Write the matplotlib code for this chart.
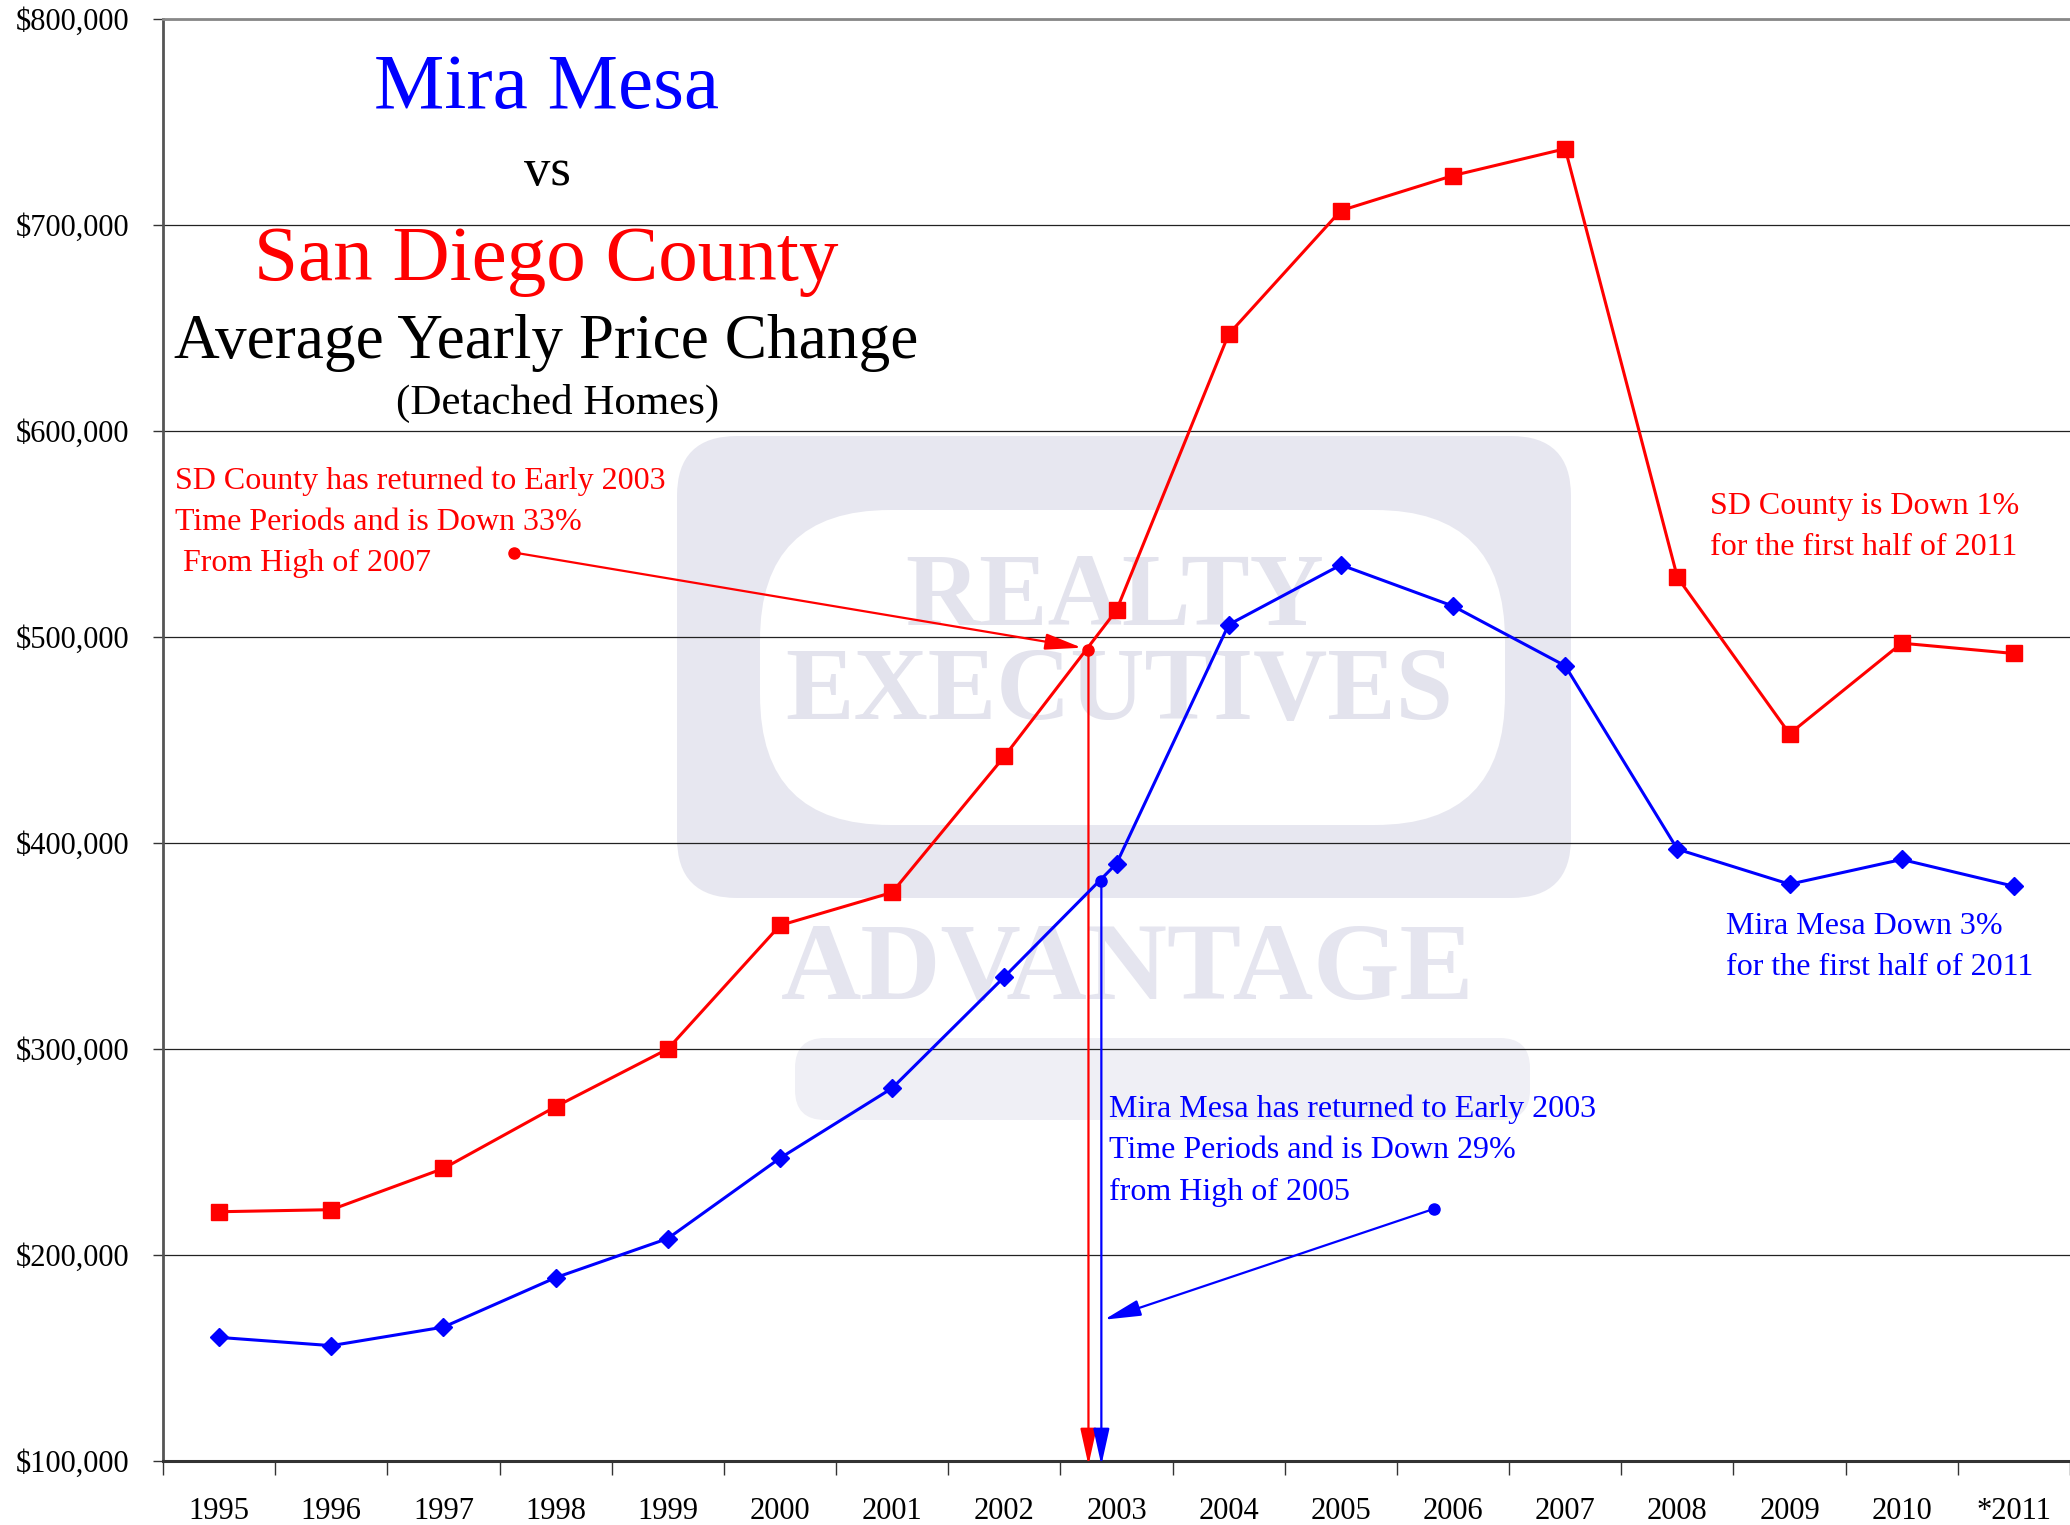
import numpy as np
import matplotlib.pyplot as plt
from matplotlib.patches import FancyBboxPatch
from matplotlib.ticker import FuncFormatter

plt.rcParams['font.family'] = ['Liberation Serif', 'DejaVu Serif']

years = ['1995', '1996', '1997', '1998', '1999', '2000', '2001', '2002', '2003',
         '2004', '2005', '2006', '2007', '2008', '2009', '2010', '*2011']
sd_county = [221000, 222000, 242000, 272000, 300000, 360000, 376000, 442000, 513000,
             647000, 707000, 724000, 737000, 529000, 453000, 497000, 492000]
mira_mesa = [160000, 156000, 165000, 189000, 208000, 247000, 281000, 335000, 390000,
             506000, 535000, 515000, 486000, 397000, 380000, 392000, 379000]

# where each series gets back to the early 2003 level (x in category units)
sd_return = (7.75, 493500)
mm_return = (7.865, 381500)
# start points of the callout arrows
sd_note_pt = (2.63, 541000)
mm_note_pt = (10.83, 222400)

fig = plt.figure(figsize=(20.7, 15.25), dpi=100)

# -------------- background: faded company logo --------
bg = fig.add_axes([0, 0, 1, 1], zorder=0)
bg.set_xlim(0, 2070)
bg.set_ylim(1525, 0)
bg.axis('off')
bg.add_patch(FancyBboxPatch((677, 436), 894, 462, boxstyle='round,pad=0,rounding_size=60',
                            fc='#e7e7f0', ec='none'))
bg.add_patch(FancyBboxPatch((760, 510), 745, 315, boxstyle='round,pad=0,rounding_size=130',
                            fc='white', ec='none'))
bg.text(1115, 600, 'REALTY', fontsize=74, fontweight='bold', color='#e3e3ed',
        ha='center', va='center')
bg.text(1119, 694, 'EXECUTIVES', fontsize=74, fontweight='bold', color='#e3e3ed',
        ha='center', va='center')
bg.text(1128, 972, 'ADVANTAGE', fontsize=80, fontweight='bold', color='#e5e5ef',
        ha='center', va='center')
bg.add_patch(FancyBboxPatch((795, 1038), 735, 82, boxstyle='round,pad=0,rounding_size=30',
                            fc='#efeff5', ec='none'))

# -------------- main chart --------
ax = fig.add_axes([163 / 2070, 64 / 1525, 1 - 163 / 2070, 1442 / 1525], zorder=2)
ax.patch.set_alpha(0)

x = np.arange(len(years))
ax.plot(x, sd_county, color='red', lw=2.2, marker='s', ms=11, zorder=4)
ax.plot(x, mira_mesa, color='blue', lw=2.2, marker='D', ms=9, zorder=4)

ax.set_xlim(-0.5, len(years) - 0.5)
ax.set_ylim(100000, 800000)
ax.set_yticks(np.arange(100000, 800001, 100000))
ax.yaxis.set_major_formatter(FuncFormatter(lambda v, p: '${:,.0f}'.format(v)))
ax.yaxis.grid(True, color='#222222', lw=0.9)
ax.set_axisbelow(True)

ax.set_xticks(np.arange(-0.5, len(years), 1))
ax.set_xticks(x, minor=True)
ax.set_xticklabels(years, minor=True)
ax.tick_params(axis='x', which='major', length=10, width=1, color='#333333', labelbottom=False)
ax.tick_params(axis='x', which='minor', length=0, pad=26, labelsize=22)
ax.tick_params(axis='y', length=7, width=1, color='#333333', pad=17, labelsize=22)

ax.spines['right'].set_visible(False)
ax.spines['top'].set_color('#888888')
ax.spines['top'].set_linewidth(2)
ax.spines['left'].set_color('#555555')
ax.spines['left'].set_linewidth(2)
ax.spines['bottom'].set_color('#333333')
ax.spines['bottom'].set_linewidth(2.2)

# -------------- titles --------
ax.text(2.92, 757000, 'Mira Mesa', color='blue', fontsize=57, ha='center', va='baseline')
ax.text(2.93, 719500, 'vs', color='black', fontsize=38, ha='center', va='baseline')
ax.text(2.92, 673500, 'San Diego County', color='red', fontsize=57, ha='center', va='baseline')
ax.text(2.92, 635500, 'Average Yearly Price Change', color='black', fontsize=45.5,
        ha='center', va='baseline')
ax.text(3.02, 608500, '(Detached Homes)', color='black', fontsize=31, ha='center', va='baseline')

# -------------- callouts --------
arrow = '-|>,head_length=0.9,head_width=0.2'
ax.annotate('', xy=(sd_return[0], 98000), xytext=sd_return, annotation_clip=False,
            arrowprops=dict(arrowstyle=arrow, color='red', lw=1.6, mutation_scale=25,
                            shrinkA=0, shrinkB=0))
ax.annotate('', xy=(mm_return[0], 98000), xytext=mm_return, annotation_clip=False,
            arrowprops=dict(arrowstyle=arrow, color='blue', lw=1.6, mutation_scale=25,
                            shrinkA=0, shrinkB=0))
ax.annotate('', xy=(7.69, 494800), xytext=sd_note_pt,
            arrowprops=dict(arrowstyle=arrow, color='red', lw=1.6, mutation_scale=25,
                            shrinkA=0, shrinkB=0))
ax.annotate('', xy=(7.89, 168600), xytext=mm_note_pt,
            arrowprops=dict(arrowstyle=arrow, color='blue', lw=1.6, mutation_scale=25,
                            shrinkA=0, shrinkB=0))
for pt, c in [(sd_return, 'red'), (mm_return, 'blue'), (sd_note_pt, 'red'), (mm_note_pt, 'blue')]:
    ax.plot([pt[0]], [pt[1]], 'o', color=c, ms=8, zorder=5, clip_on=False)

# va='baseline' pins the last line of a multi-line text
ax.text(-0.394, 532000,
        'SD County has returned to Early 2003\nTime Periods and is Down 33%\n From High of 2007',
        color='red', fontsize=23, ha='left', va='baseline', linespacing=1.55)
ax.text(13.29, 539700, 'SD County is Down 1%\nfor the first half of 2011',
        color='red', fontsize=23, ha='left', va='baseline', linespacing=1.55)
ax.text(13.43, 335900, 'Mira Mesa Down 3%\nfor the first half of 2011',
        color='blue', fontsize=23, ha='left', va='baseline', linespacing=1.55)
ax.text(7.935, 226900,
        'Mira Mesa has returned to Early 2003\nTime Periods and is Down 29%\nfrom High of 2005',
        color='blue', fontsize=23, ha='left', va='baseline', linespacing=1.55)

fig.savefig('out.png', dpi=100)
